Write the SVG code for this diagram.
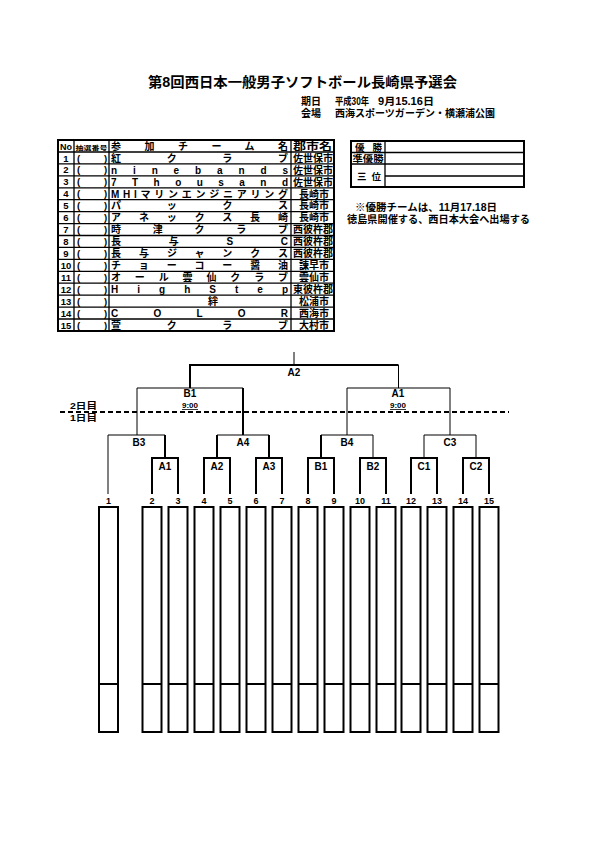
<svg xmlns="http://www.w3.org/2000/svg" width="595" height="842" viewBox="0 0 595 842">
<style>
.j{font-family:"Liberation Sans","Noto Sans CJK JP",sans-serif;font-weight:bold;fill:#000}
.l{font-family:"Liberation Sans",Arial,sans-serif;font-weight:bold;fill:#000}
.c{text-anchor:middle}
.thin{stroke:#000;stroke-width:1;fill:none}
.thick{stroke:#000;stroke-width:2;fill:none}
.grid{stroke:#000;stroke-width:1.3;fill:none}
.slot{stroke:#000;stroke-width:2;fill:#fff}
</style>
<rect width="595" height="842" fill="#fff"/>
<g id="title">
<text class="j" x="148" y="87" font-size="14" textLength="309" lengthAdjust="spacingAndGlyphs">第8回西日本一般男子ソフトボール長崎県予選会</text>
<text class="j" x="301" y="105" font-size="10">期日</text>
<text class="j" x="335" y="105" font-size="10" textLength="34" lengthAdjust="spacingAndGlyphs">平成30年</text>
<text class="j" x="378" y="105" font-size="10" textLength="56" lengthAdjust="spacingAndGlyphs">9月15.16日</text>
<text class="j" x="301" y="117" font-size="10">会場</text>
<text class="j" x="335" y="117" font-size="10" textLength="160" lengthAdjust="spacingAndGlyphs">西海スポーツガーデン・横瀬浦公園</text>
</g>
<g id="team-table">
<rect x="58" y="140" width="276" height="191" class="thick"/>
<path class="grid" d="M74,140V331M109,140V331M291,140V331M58,152H334M58,163.9H334M58,175.9H334M58,187.8H334M58,199.7H334M58,211.6H334M58,223.6H334M58,235.5H334M58,247.4H334M58,259.4H334M58,271.3H334M58,283.2H334M58,295.1H334M58,307.1H334M58,319H334"/>
<text class="l c" x="66" y="150" font-size="9">No</text>
<text class="j" x="75.5" y="149.5" font-size="6" textLength="32" lengthAdjust="spacingAndGlyphs">抽選番号</text>
<text class="j" x="111" y="150" font-size="10" textLength="177" lengthAdjust="spacing">参加チーム名</text>
<text class="j" x="293" y="150" font-size="10" textLength="39" lengthAdjust="spacingAndGlyphs">郡市名</text>
<g class="l c" font-size="9.5">
<text x="66" y="161.5">1</text><text x="66" y="173.4">2</text><text x="66" y="185.4">3</text><text x="66" y="197.3">4</text><text x="66" y="209.2">5</text><text x="66" y="221.1">6</text><text x="66" y="233.1">7</text><text x="66" y="245">8</text><text x="66" y="256.9">9</text><text x="66" y="268.9">10</text><text x="66" y="280.8">11</text><text x="66" y="292.7">12</text><text x="66" y="304.6">13</text><text x="66" y="316.6">14</text><text x="66" y="328.5">15</text>
</g>
<g class="l" font-size="9.5">
<text x="77" y="161.5">(</text><text x="104" y="161.5">)</text>
<text x="77" y="173.4">(</text><text x="104" y="173.4">)</text>
<text x="77" y="185.4">(</text><text x="104" y="185.4">)</text>
<text x="77" y="197.3">(</text><text x="104" y="197.3">)</text>
<text x="77" y="209.2">(</text><text x="104" y="209.2">)</text>
<text x="77" y="221.1">(</text><text x="104" y="221.1">)</text>
<text x="77" y="233.1">(</text><text x="104" y="233.1">)</text>
<text x="77" y="245">(</text><text x="104" y="245">)</text>
<text x="77" y="256.9">(</text><text x="104" y="256.9">)</text>
<text x="77" y="268.9">(</text><text x="104" y="268.9">)</text>
<text x="77" y="280.8">(</text><text x="104" y="280.8">)</text>
<text x="77" y="292.7">(</text><text x="104" y="292.7">)</text>
<text x="77" y="304.6">(</text><text x="104" y="304.6">)</text>
<text x="77" y="316.6">(</text><text x="104" y="316.6">)</text>
<text x="77" y="328.5">(</text><text x="104" y="328.5">)</text>
</g>
<g class="j" font-size="10">
<text x="111" y="161.7" textLength="177" lengthAdjust="spacing">紅クラブ</text>
<text x="111" y="173.6" textLength="177" lengthAdjust="spacing">ninebands</text>
<text x="111" y="185.6" textLength="177" lengthAdjust="spacing">7Thousand</text>
<text x="111" y="197.5" textLength="177" lengthAdjust="spacing">MHIマリンエンジニアリング</text>
<text x="111" y="209.4" textLength="177" lengthAdjust="spacing">パックス</text>
<text x="111" y="221.3" textLength="177" lengthAdjust="spacing">アネックス長崎</text>
<text x="111" y="233.3" textLength="177" lengthAdjust="spacing">時津クラブ</text>
<text x="111" y="245.2" textLength="177" lengthAdjust="spacing">長与SC</text>
<text x="111" y="257.1" textLength="177" lengthAdjust="spacing">長与ジャンクス</text>
<text x="111" y="269.1" textLength="177" lengthAdjust="spacing">チョーコー醤油</text>
<text x="111" y="281" textLength="177" lengthAdjust="spacing">オール雲仙クラブ</text>
<text x="111" y="292.9" textLength="177" lengthAdjust="spacing">HighStep</text>
<text x="208" y="304.8">絆</text>
<text x="111" y="316.8" textLength="177" lengthAdjust="spacing">COLOR</text>
<text x="111" y="328.7" textLength="177" lengthAdjust="spacing">萱クラブ</text>
</g>
<g class="j" font-size="10">
<text x="293" y="161.7" textLength="40" lengthAdjust="spacingAndGlyphs">佐世保市</text>
<text x="293" y="173.6" textLength="40" lengthAdjust="spacingAndGlyphs">佐世保市</text>
<text x="293" y="185.6" textLength="40" lengthAdjust="spacingAndGlyphs">佐世保市</text>
<text class="c" x="314" y="197.5">長崎市</text>
<text class="c" x="314" y="209.4">長崎市</text>
<text class="c" x="314" y="221.3">長崎市</text>
<text x="293" y="233.3" textLength="40" lengthAdjust="spacingAndGlyphs">西彼杵郡</text>
<text x="293" y="245.2" textLength="40" lengthAdjust="spacingAndGlyphs">西彼杵郡</text>
<text x="293" y="257.1" textLength="40" lengthAdjust="spacingAndGlyphs">西彼杵郡</text>
<text class="c" x="314" y="269.1">諫早市</text>
<text class="c" x="314" y="281">雲仙市</text>
<text x="293" y="292.9" textLength="40" lengthAdjust="spacingAndGlyphs">東彼杵郡</text>
<text class="c" x="314" y="304.8">松浦市</text>
<text class="c" x="314" y="316.8">西海市</text>
<text class="c" x="314" y="328.7">大村市</text>
</g>
</g>
<g id="results-box">
<rect x="351" y="141" width="173" height="46" class="thick"/>
<path class="grid" d="M385,141V187M351,152.5H524M351,164H524M385,176H524"/>
<text class="j" x="355" y="150.5" font-size="9.5" textLength="27" lengthAdjust="spacing">優勝</text>
<text class="j" x="352.5" y="162" font-size="9.5" textLength="31" lengthAdjust="spacingAndGlyphs">準優勝</text>
<text class="j" x="357" y="179.5" font-size="9.5" textLength="24" lengthAdjust="spacing">三位</text>
</g>
<g id="note">
<text class="j" x="355" y="211" font-size="10" textLength="142" lengthAdjust="spacingAndGlyphs">※優勝チームは、11月17.18日</text>
<text class="j" x="347" y="223" font-size="10" textLength="183" lengthAdjust="spacingAndGlyphs">徳島県開催する、西日本大会へ出場する</text>
</g>
<g id="day-divider">
<line x1="60" y1="412" x2="509" y2="412" stroke="#000" stroke-width="2" stroke-dasharray="5,3"/>
<text class="j" x="70" y="409" font-size="9" textLength="27" lengthAdjust="spacingAndGlyphs">2日目</text>
<text class="j" x="70" y="421" font-size="9" textLength="27" lengthAdjust="spacingAndGlyphs">1日目</text>
</g>
<g id="connectors">
<path class="thin" d="M294,352V365M398.5,365V388"/>
<path class="thick" d="M190,388V365H398.5"/>
<path class="thin" d="M137,435V388H243"/>
<path class="thick" d="M243,388V435"/>
<path class="thin" d="M347,435V388H450V435"/>
<path class="thin" d="M108,494V435H165"/>
<path class="thick" d="M165,435V458"/>
<path class="thin" d="M217,435H269"/>
<path class="thick" d="M217,458V435M269,435V458"/>
<path class="thick" d="M321,458V435"/>
<path class="thin" d="M321,435H373V458"/>
<path class="thin" d="M424,458V435H476V458"/>
<path class="thick" d="M152,494V458H178V494M204,494V458H230V494M256,494V458H282V494M308,494V458H334V494M360,494V458H386V494M411,494V458H437V494M463,494V458H489V494"/>
</g>
<g id="match-labels" class="l c" font-size="10">
<text x="294" y="376">A2</text>
<text x="190" y="397">B1</text>
<text x="190" y="408" font-size="8" text-decoration="underline">9:00</text>
<text x="398" y="397">A1</text>
<text x="398" y="408" font-size="8" text-decoration="underline">9:00</text>
<text x="139" y="446">B3</text>
<text x="243" y="446">A4</text>
<text x="347" y="446">B4</text>
<text x="450" y="446">C3</text>
<text x="165" y="470">A1</text>
<text x="217" y="470">A2</text>
<text x="269" y="470">A3</text>
<text x="321" y="470">B1</text>
<text x="373" y="470">B2</text>
<text x="424" y="470">C1</text>
<text x="476" y="470">C2</text>
</g>
<g id="slots">
<g class="l c" font-size="9">
<text x="108.5" y="504">1</text><text x="152" y="504">2</text><text x="178" y="504">3</text><text x="204" y="504">4</text><text x="230" y="504">5</text><text x="256" y="504">6</text><text x="282" y="504">7</text><text x="308" y="504">8</text><text x="334" y="504">9</text><text x="360" y="504">10</text><text x="386" y="504">11</text><text x="411" y="504">12</text><text x="437" y="504">13</text><text x="463" y="504">14</text><text x="489" y="504">15</text>
</g>
<g class="slot">
<rect x="99" y="507" width="19" height="225"/><rect x="142.5" y="507" width="19" height="225"/><rect x="168.5" y="507" width="19" height="225"/><rect x="194.5" y="507" width="19" height="225"/><rect x="220.5" y="507" width="19" height="225"/><rect x="246.5" y="507" width="19" height="225"/><rect x="272.5" y="507" width="19" height="225"/><rect x="298.5" y="507" width="19" height="225"/><rect x="324.5" y="507" width="19" height="225"/><rect x="350.5" y="507" width="19" height="225"/><rect x="376.5" y="507" width="19" height="225"/><rect x="401.5" y="507" width="19" height="225"/><rect x="427.5" y="507" width="19" height="225"/><rect x="453.5" y="507" width="19" height="225"/><rect x="479.5" y="507" width="19" height="225"/>
</g>
<path stroke="#000" stroke-width="2" d="M99,684H118M142.5,684H161.5M168.5,684H187.5M194.5,684H213.5M220.5,684H239.5M246.5,684H265.5M272.5,684H291.5M298.5,684H317.5M324.5,684H343.5M350.5,684H369.5M376.5,684H395.5M401.5,684H420.5M427.5,684H446.5M453.5,684H472.5M479.5,684H498.5"/>
</g>
</svg>
